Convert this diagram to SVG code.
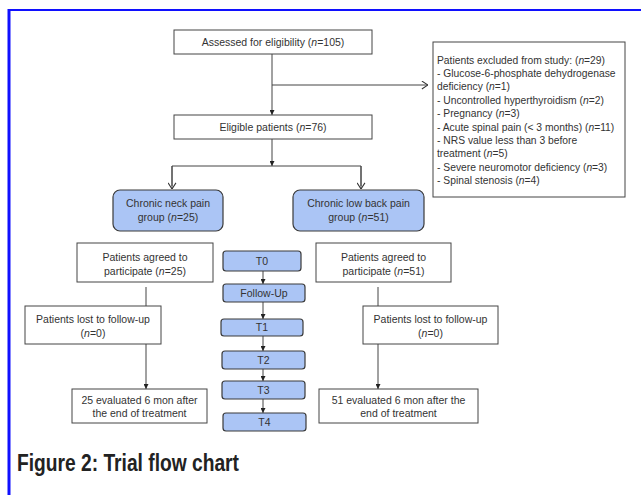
<svg xmlns="http://www.w3.org/2000/svg" width="641" height="495" viewBox="0 0 641 495">
<defs>
<style>
.t{font-family:"Liberation Sans",Arial,sans-serif;font-size:10.5px;fill:#333;text-anchor:middle}
.l{font-family:"Liberation Sans",Arial,sans-serif;font-size:10.3px;fill:#333}
.w{fill:#fff;stroke:#444;stroke-width:1}
.b{fill:#abc5f5;stroke:#3a3a3a;stroke-width:1.2}
.c{fill:none;stroke:#444;stroke-width:1}
.cap{font-family:"Liberation Sans",Arial,sans-serif;font-size:24px;font-weight:bold;fill:#222}
</style>
<marker id="fa" viewBox="0 0 6 6" refX="6" refY="3" markerWidth="5" markerHeight="5" markerUnits="userSpaceOnUse" orient="auto">
<path d="M0,0 L6,3 L0,6 z" fill="#222"/>
</marker>
<marker id="oa" viewBox="0 0 8 10" refX="7.5" refY="5" markerWidth="7" markerHeight="9" markerUnits="userSpaceOnUse" orient="auto">
<path d="M0.5,0.5 L7.5,5 L0.5,9.5" fill="none" stroke="#333" stroke-width="1.2"/>
</marker>
</defs>
<rect width="641" height="495" fill="#fff"/>
<g id="frame">
<line x1="8" y1="10" x2="641" y2="10" stroke="#1010ff" stroke-width="2"/>
<line x1="9" y1="9" x2="9" y2="495" stroke="#1010ff" stroke-width="3"/>
</g>
<g id="connectors">
<line class="c" x1="272" y1="54" x2="272" y2="115" marker-end="url(#fa)"/>
<line class="c" x1="272" y1="85" x2="428" y2="85" marker-end="url(#oa)"/>
<line class="c" x1="272" y1="139" x2="272" y2="166" marker-end="url(#fa)"/>
<polyline class="c" points="172,186 172,166 361,166 361,186"/>
<line class="c" x1="172" y1="166" x2="172" y2="189" marker-end="url(#oa)"/>
<line class="c" x1="361" y1="166" x2="361" y2="189" marker-end="url(#oa)"/>
<line class="c" x1="146" y1="287" x2="146" y2="306"/>
<line class="c" x1="146" y1="344" x2="146" y2="389" marker-end="url(#fa)"/>
<line class="c" x1="378" y1="287" x2="378" y2="306"/>
<line class="c" x1="378" y1="344" x2="378" y2="389" marker-end="url(#fa)"/>
<line class="c" x1="263" y1="271" x2="263" y2="284" marker-end="url(#fa)"/>
<line class="c" x1="263" y1="302" x2="263" y2="319" marker-end="url(#fa)"/>
<line class="c" x1="263" y1="336" x2="263" y2="351" marker-end="url(#fa)"/>
<line class="c" x1="263" y1="369" x2="263" y2="381" marker-end="url(#fa)"/>
<line class="c" x1="263" y1="399" x2="263" y2="413" marker-end="url(#fa)"/>
</g>
<g id="assessed">
<rect class="w" x="174" y="30" width="198" height="24"/>
<text class="t" x="273" y="45.7">Assessed for eligibility (<tspan font-style="italic">n</tspan>=105)</text>
</g>
<g id="excluded">
<rect class="w" x="433" y="42" width="192" height="155"/>
<text class="l" x="437" y="63.5">Patients excluded from study: (<tspan font-style="italic">n</tspan>=29)</text>
<text class="l" x="437" y="76.9">- Glucose-6-phosphate dehydrogenase</text>
<text class="l" x="437" y="90.3">deficiency (<tspan font-style="italic">n</tspan>=1)</text>
<text class="l" x="437" y="103.7">- Uncontrolled hyperthyroidism (<tspan font-style="italic">n</tspan>=2)</text>
<text class="l" x="437" y="117.1">- Pregnancy (<tspan font-style="italic">n</tspan>=3)</text>
<text class="l" x="437" y="130.5">- Acute spinal pain (&lt; 3 months) (<tspan font-style="italic">n</tspan>=11)</text>
<text class="l" x="437" y="143.9">- NRS value less than 3 before</text>
<text class="l" x="437" y="157.3">treatment (<tspan font-style="italic">n</tspan>=5)</text>
<text class="l" x="437" y="170.7">- Severe neuromotor deficiency (<tspan font-style="italic">n</tspan>=3)</text>
<text class="l" x="437" y="184.1">- Spinal stenosis (<tspan font-style="italic">n</tspan>=4)</text>
</g>
<g id="eligible">
<rect class="w" x="174" y="115" width="198" height="24"/>
<text class="t" x="273" y="130.7">Eligible patients (<tspan font-style="italic">n</tspan>=76)</text>
</g>
<g id="neck">
<rect class="b" x="113" y="190" width="110" height="41" rx="7"/>
<text class="t" x="168" y="206.7">Chronic neck pain</text>
<text class="t" x="168" y="220.7">group (<tspan font-style="italic">n</tspan>=25)</text>
</g>
<g id="lowback">
<rect class="b" x="293" y="190" width="131" height="41" rx="7"/>
<text class="t" x="358.5" y="206.7">Chronic low back pain</text>
<text class="t" x="358.5" y="220.7">group (<tspan font-style="italic">n</tspan>=51)</text>
</g>
<g id="agreed-left">
<rect class="w" x="77" y="243" width="136" height="39"/>
<text class="t" x="145" y="260.7">Patients agreed to</text>
<text class="t" x="145" y="274.7">participate (<tspan font-style="italic">n</tspan>=25)</text>
</g>
<g id="agreed-right">
<rect class="w" x="316" y="243" width="135" height="39"/>
<text class="t" x="383.5" y="260.7">Patients agreed to</text>
<text class="t" x="383.5" y="274.7">participate (<tspan font-style="italic">n</tspan>=51)</text>
</g>
<g id="lost-left">
<rect class="w" x="25" y="306" width="136" height="38"/>
<text class="t" x="93" y="322.7">Patients lost to follow-up</text>
<text class="t" x="93" y="336.7">(<tspan font-style="italic">n</tspan>=0)</text>
</g>
<g id="lost-right">
<rect class="w" x="363" y="306" width="135" height="38"/>
<text class="t" x="430.5" y="322.7">Patients lost to follow-up</text>
<text class="t" x="430.5" y="336.7">(<tspan font-style="italic">n</tspan>=0)</text>
</g>
<g id="eval-left">
<rect class="w" x="72" y="389" width="135" height="34"/>
<text class="t" x="139.5" y="403.7">25 evaluated 6 mon after</text>
<text class="t" x="139.5" y="416.7">the end of treatment</text>
</g>
<g id="eval-right">
<rect class="w" x="319" y="389" width="159" height="34"/>
<text class="t" x="398.5" y="403.7">51 evaluated 6 mon after the</text>
<text class="t" x="398.5" y="416.7">end of treatment</text>
</g>
<g id="t0">
<rect class="b" x="223" y="251" width="78" height="20" rx="3"/>
<text class="t" x="262" y="264.7">T0</text>
</g>
<g id="followup">
<rect class="b" x="223" y="284" width="82" height="18" rx="3"/>
<text class="t" x="264" y="296.7">Follow-Up</text>
</g>
<g id="t1">
<rect class="b" x="221" y="319" width="82" height="17" rx="3"/>
<text class="t" x="262" y="331.2">T1</text>
</g>
<g id="t2">
<rect class="b" x="222" y="351" width="83" height="18" rx="3"/>
<text class="t" x="263.5" y="363.7">T2</text>
</g>
<g id="t3">
<rect class="b" x="222" y="381" width="83" height="18" rx="3"/>
<text class="t" x="263.5" y="393.7">T3</text>
</g>
<g id="t4">
<rect class="b" x="223" y="413" width="83" height="18" rx="3"/>
<text class="t" x="264.5" y="425.7">T4</text>
</g>
<text class="cap" x="17" y="471" textLength="222" lengthAdjust="spacingAndGlyphs">Figure 2: Trial flow chart</text>
</svg>
